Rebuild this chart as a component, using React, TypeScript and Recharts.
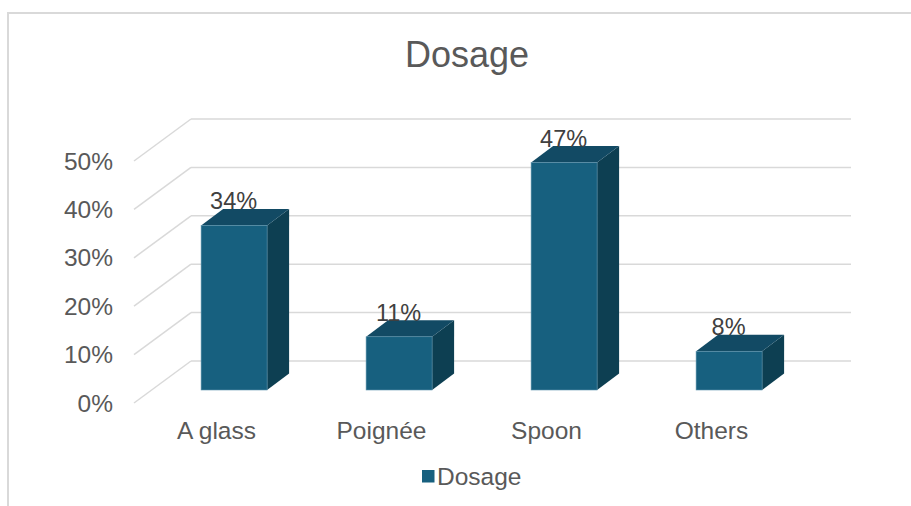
import React from 'react';
import { BarChart, Bar, XAxis, YAxis, CartesianGrid, LabelList, Customized } from 'recharts';

// Chart data
const categories = ['A glass', 'Poignée', 'Spoon', 'Others'];
const dosageValues = [34, 11, 47, 8];
const yTicks = [0, 10, 20, 30, 40, 50];
const seriesName = 'Dosage';
const chartTitle = 'Dosage';

const data = categories.map((category, i) => ({ category, dosage: dosageValues[i] }));

// Styling
const FONT = '"Liberation Sans", Arial, sans-serif';
const AXIS_TEXT = '#595959';
const LABEL_TEXT = '#404040';
const GRID = '#d9d9d9';
const FRONT = '#17607f';
const TOP = '#124a64';
const SIDE = '#0d3f52';
const AXIS_FONT_SIZE = 24.5;

// Oblique projection: the back wall sits up and to the right of the front plane.
const WALL_DX = 57;
const WALL_DY = -42;
// Bars stand partway into the floor and have some depth of their own.
const BAR_SX = 17.6;
const BAR_SY = -13;
const BAR_DX = 22;
const BAR_DY = -16.5;

const renderGridLine = (props: any) => {
  const { x1, x2, y1, index } = props;
  return (
    <g key={`grid-${index}-${y1}`}>
      <line x1={x1} y1={y1} x2={x1 + WALL_DX} y2={y1 + WALL_DY} stroke={GRID} strokeWidth={1.5} />
      <line x1={x1 + WALL_DX} y1={y1 + WALL_DY} x2={x2 + WALL_DX} y2={y1 + WALL_DY} stroke={GRID} strokeWidth={1.5} />
    </g>
  );
};

const Bar3D = (props: any) => {
  const { x, y, width, height } = props;
  if (width == null || height == null) return null;
  const fx = x + BAR_SX;
  const fy = y + BAR_SY;
  const top = `${fx},${fy} ${fx + BAR_DX},${fy + BAR_DY} ${fx + width + BAR_DX},${fy + BAR_DY} ${fx + width},${fy}`;
  const side = `${fx + width},${fy} ${fx + width + BAR_DX},${fy + BAR_DY} ${fx + width + BAR_DX},${fy + height + BAR_DY} ${fx + width},${fy + height}`;
  return (
    <g>
      <polygon points={side} fill={SIDE} />
      <polygon points={top} fill={TOP} />
      <rect x={fx} y={fy} width={width} height={height} fill={FRONT} stroke="#5e93ad" strokeWidth={0.6} />
    </g>
  );
};

const BarValueLabel = (props: any) => {
  const { x, y, width, value } = props;
  return (
    <text
      x={x + BAR_SX + width / 2 - 0.5}
      y={y + BAR_SY + BAR_DY + 0.5}
      textAnchor="middle"
      fill={LABEL_TEXT}
      fontSize={23.5}
      fontFamily={FONT}
    >
      {`${value}%`}
    </text>
  );
};

const TitleAndLegend = () => (
  <g>
    <text x={467} y={67} textAnchor="middle" fill={AXIS_TEXT} fontSize={36} fontFamily={FONT}>
      {chartTitle}
    </text>
    <rect x={422} y={470} width={12.5} height={12.5} fill={FRONT} />
    <text x={437} y={484.5} fill={AXIS_TEXT} fontSize={AXIS_FONT_SIZE} fontFamily={FONT}>
      {seriesName}
    </text>
  </g>
);

export default function App() {
  return (
    <div
      style={{
        position: 'absolute',
        left: 0,
        top: 0,
        width: 911,
        height: 506,
        overflow: 'hidden',
        background: '#ffffff',
        fontFamily: FONT,
      }}
    >
      <div
        style={{
          position: 'absolute',
          left: 7,
          top: 12,
          width: 1000,
          height: 1000,
          border: `2px solid ${GRID}`,
          boxSizing: 'border-box',
        }}
      />
      <div style={{ position: 'absolute', left: 0, top: 0 }}>
        <BarChart
          width={911}
          height={506}
          data={data}
          margin={{ top: 161, right: 117, bottom: 73, left: 74 }}
          barCategoryGap="30%"
        >
          <CartesianGrid vertical={false} horizontal={renderGridLine} />
          <XAxis
            dataKey="category"
            axisLine={false}
            tickLine={false}
            tickSize={0}
            tickMargin={19}
            height={30}
            interval={0}
            tick={{ fill: AXIS_TEXT, fontSize: AXIS_FONT_SIZE, fontFamily: FONT }}
          />
          <YAxis
            domain={[0, 50]}
            ticks={yTicks}
            tickFormatter={(v: number) => `${v}%`}
            axisLine={false}
            tickLine={false}
            tickSize={0}
            tickMargin={21}
            width={60}
            tick={{ fill: AXIS_TEXT, fontSize: AXIS_FONT_SIZE, fontFamily: FONT }}
          />
          <Bar dataKey="dosage" name={seriesName} shape={Bar3D} isAnimationActive={false}>
            <LabelList dataKey="dosage" content={BarValueLabel} />
          </Bar>
          <Customized component={TitleAndLegend} />
        </BarChart>
      </div>
    </div>
  );
}
